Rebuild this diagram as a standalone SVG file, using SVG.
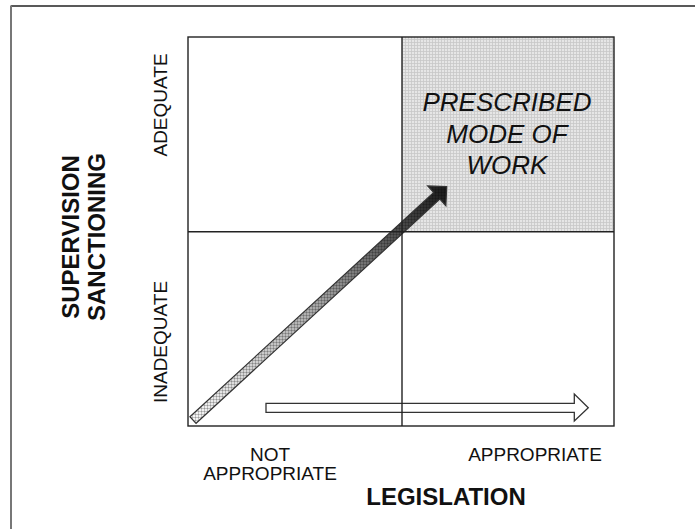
<svg xmlns="http://www.w3.org/2000/svg" width="695" height="529" viewBox="0 0 695 529">
<style>
.lbl{font-family:"Liberation Sans",Arial,sans-serif;font-size:19px;fill:#111}
.bold{font-family:"Liberation Sans",Arial,sans-serif;font-size:24px;font-weight:bold;fill:#111}
.big{font-family:"Liberation Sans",Arial,sans-serif;font-size:26px;font-style:italic;fill:#111;text-anchor:middle}
.ln{stroke:#222;stroke-width:1.4;fill:none}
</style>
<defs>
<pattern id="grid" width="3" height="3" patternUnits="userSpaceOnUse">
<rect width="3" height="3" fill="#e6e6e6"/>
<path d="M0 0.5H3M0.5 0V3" stroke="#c8c8c8" stroke-width="0.8"/>
</pattern>
<pattern id="hatch" width="3" height="3" patternUnits="userSpaceOnUse">
<path d="M0 0.5H3M0.5 0V3" stroke="#000" stroke-width="0.8" stroke-opacity="0.25"/>
</pattern>
<linearGradient id="diag" gradientUnits="userSpaceOnUse" x1="193" y1="420" x2="446.7" y2="186.7">
<stop offset="0" stop-color="#f6f6f6"/>
<stop offset="0.45" stop-color="#b0b0b0"/>
<stop offset="0.8" stop-color="#505050"/>
<stop offset="1" stop-color="#1a1a1a"/>
</linearGradient>
</defs>
<rect width="695" height="529" fill="#fff"/>
<g id="frame">
<line x1="11" y1="6" x2="695" y2="6" stroke="#222" stroke-width="1.5"/>
<line x1="11" y1="5.5" x2="11" y2="529" stroke="#777" stroke-width="2"/>
</g>
<g id="quadrant-prescribed">
<rect x="402" y="37" width="212" height="194.7" fill="url(#grid)"/>
<text class="big" x="507" y="111">PRESCRIBED</text>
<text class="big" x="507" y="143">MODE OF</text>
<text class="big" x="507" y="174">WORK</text>
</g>
<g id="connectors">
<polygon points="266,403.3 574.3,403.3 574.3,394 588.3,407.8 574.3,421 574.3,412.3 266,412.3" fill="#fff" stroke="#333" stroke-width="1.3"/>
<polygon points="189.95,416.69 433.75,192.49 427.73,185.94 446.7,186.7 445.87,205.66 439.85,199.11 196.05,423.31" fill="url(#diag)"/>
<polygon points="189.95,416.69 433.75,192.49 427.73,185.94 446.7,186.7 445.87,205.66 439.85,199.11 196.05,423.31" fill="url(#hatch)" stroke="#333" stroke-width="1.2" stroke-linejoin="miter"/>
</g>
<g id="matrix">
<rect class="ln" x="188" y="37" width="426" height="389"/>
<line class="ln" x1="402" y1="37" x2="402" y2="426"/>
<line class="ln" x1="188" y1="231.7" x2="614" y2="231.7"/>
</g>
<g id="y-axis">
<text class="lbl" text-anchor="middle" transform="translate(167,105) rotate(-90)">ADEQUATE</text>
<text class="lbl" text-anchor="middle" transform="translate(167,342) rotate(-90)">INADEQUATE</text>
<text class="bold" text-anchor="middle" transform="translate(79,237) rotate(-90)">SUPERVISION</text>
<text class="bold" text-anchor="middle" transform="translate(105,237) rotate(-90)">SANCTIONING</text>
</g>
<g id="x-axis">
<text class="lbl" text-anchor="middle" x="270" y="461">NOT</text>
<text class="lbl" text-anchor="middle" x="270" y="480">APPROPRIATE</text>
<text class="lbl" text-anchor="middle" x="535" y="461">APPROPRIATE</text>
<text class="bold" text-anchor="middle" x="446" y="505">LEGISLATION</text>
</g>
</svg>
